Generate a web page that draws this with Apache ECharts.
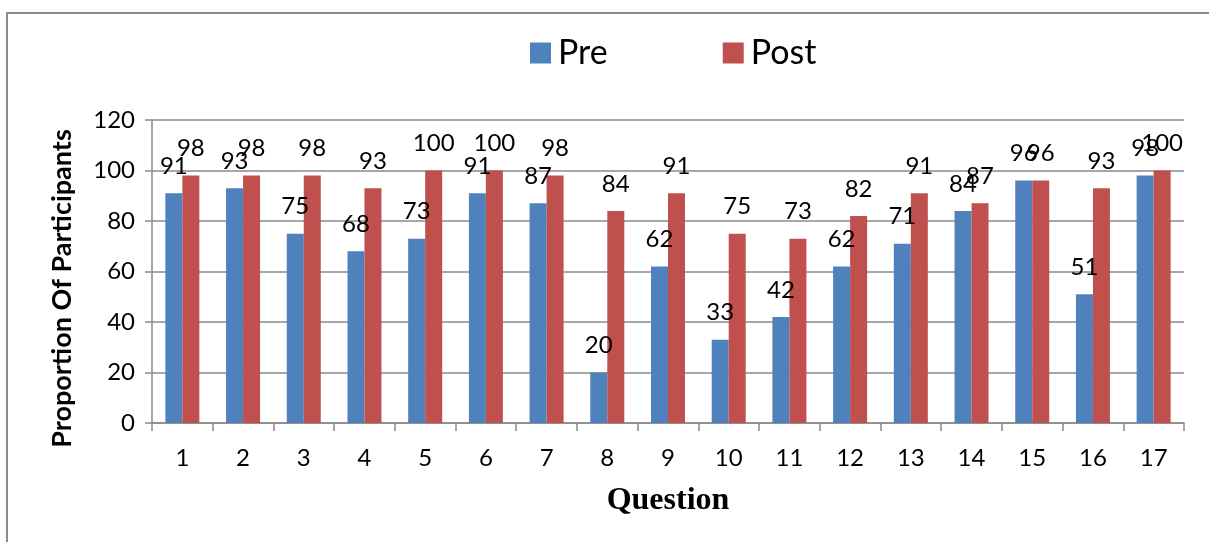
<!DOCTYPE html>
<html>
<head>
    <meta charset="utf-8">
    <title>Pre / Post</title>
    <script src="https://cdnjs.cloudflare.com/ajax/libs/echarts/6.0.0/echarts.min.js"></script>
    <style>
        html, body { margin: 0; padding: 0; background: #fff; }
        #main { width: 1209px; height: 542px; }
    </style>
</head>
<body>
<div id="main"></div>
<script>
// 数据
const questions = ['1','2','3','4','5','6','7','8','9','10','11','12','13','14','15','16','17'];
const preValues = [91, 93, 75, 68, 73, 91, 87, 20, 62, 33, 42, 62, 71, 84, 96, 51, 98];
const postValues = [98, 98, 98, 93, 100, 100, 98, 84, 91, 75, 73, 82, 91, 87, 96, 93, 100];

const FONT = 'Lato, "Open Sans", sans-serif';
const AXIS_GRAY = '#8a8a8a';

const chart = echarts.init(document.getElementById('main'));

const labelStyle = {
    show: true,
    position: 'top',
    distance: 15,
    color: '#000',
    fontSize: 24,
    fontFamily: FONT
};

chart.setOption({
    animation: false,
    graphic: [{
        type: 'rect',
        shape: { x: 7, y: 13, width: 1300, height: 600 },
        style: { fill: 'none', stroke: '#8c8c8c', lineWidth: 2 },
        silent: true
    }],
    legend: {
        left: 525,
        top: 31,
        itemWidth: 21,
        itemHeight: 21,
        itemGap: 115,
        icon: 'rect',
        textStyle: { fontSize: 34, fontFamily: FONT, color: '#000', padding: [0, 0, 0, 2] },
        data: ['Pre', 'Post']
    },
    grid: { left: 152, right: 25, top: 120, bottom: 119 },
    xAxis: {
        type: 'category',
        data: questions,
        name: 'Question',
        nameLocation: 'middle',
        nameGap: 62,
        nameTextStyle: { fontSize: 32, fontWeight: 'bold', fontFamily: '"Liberation Serif", "DejaVu Serif", serif', color: '#000' },
        axisLine: { lineStyle: { color: AXIS_GRAY, width: 1.5 } },
        axisTick: { show: true, length: 8, lineStyle: { color: AXIS_GRAY, width: 1.5 } },
        axisLabel: { fontSize: 24, fontFamily: FONT, color: '#000', margin: 23 }
    },
    yAxis: {
        type: 'value',
        min: 0,
        max: 120,
        interval: 20,
        name: 'Proportion Of Participants',
        nameLocation: 'middle',
        nameGap: 76,
        nameTextStyle: { fontSize: 27, fontWeight: 'bold', fontFamily: FONT, color: '#000', padding: [0, 34, 0, 0] },
        axisLine: { show: true, lineStyle: { color: AXIS_GRAY, width: 1.5 } },
        axisTick: { show: true, length: 7, lineStyle: { color: AXIS_GRAY, width: 1.5 } },
        axisLabel: { fontSize: 24, fontFamily: FONT, color: '#000', margin: 17 },
        splitLine: { lineStyle: { color: AXIS_GRAY, width: 1.5 } }
    },
    series: [
        {
            name: 'Pre',
            type: 'bar',
            data: preValues,
            barWidth: 17,
            barGap: '0%',
            itemStyle: { color: '#4F81BD' },
            label: labelStyle
        },
        {
            name: 'Post',
            type: 'bar',
            data: postValues,
            barWidth: 17,
            itemStyle: { color: '#C0504D' },
            label: labelStyle
        }
    ]
});
</script>
</body>
</html>
